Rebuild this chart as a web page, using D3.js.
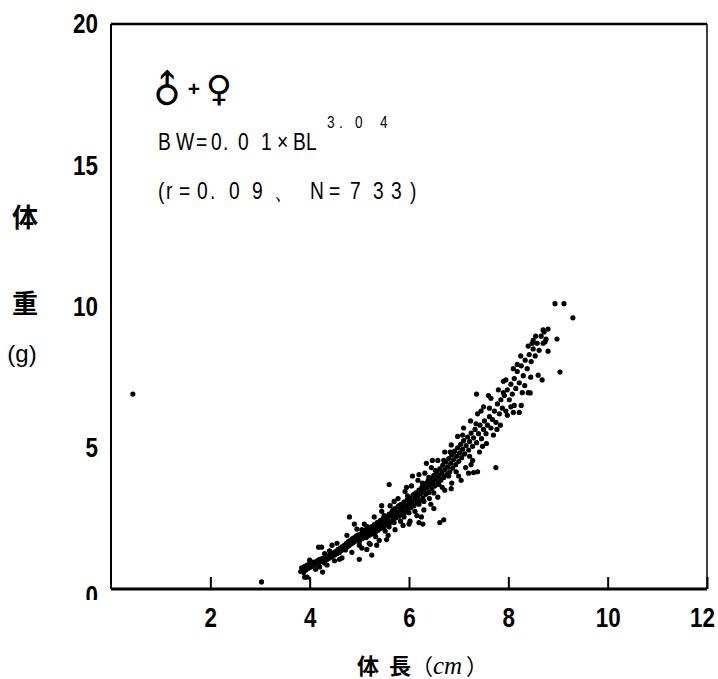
<!DOCTYPE html>
<html><head><meta charset="utf-8">
<script src="https://cdn.jsdelivr.net/npm/d3@7"></script>
<style>body{margin:0;background:#fff}svg{display:block}</style>
</head><body><svg id="c" width="718" height="679"></svg>
<script>
// ---- data ----
const xTickValues = [2, 4, 6, 8, 10, 12];
const yTickValues = [0, 5, 10, 15, 20];
const xTitleParts = ["体", "長", "（", "cm", "）"];
const yTitleParts = ["体", "重", "(g)"];
const sexLabel = ["♂", "+", "♀"];
const formulaMain = "B W=0. 0 1 ×BL";
const formulaExp = "3. 0 4";
const statsLine = "(r=0. 0 9、N=7 3 3)";
// [body length (cm), body weight (g)]
const scatterPoints = [
[3.82,0.62],[3.84,0.75],[3.86,0.70],[3.88,0.58],[3.90,0.80],[3.93,0.68],[3.95,0.85],[3.98,0.74],[4.00,0.90],[4.02,0.78],
[4.05,0.84],[4.08,0.95],[4.10,0.86],[4.12,0.92],[4.15,1.00],[4.18,0.90],[4.20,1.05],[4.22,0.97],[4.25,1.08],[4.28,1.02],
[4.30,0.92],[4.32,1.12],[4.35,1.05],[4.38,1.18],[4.40,1.10],[4.42,1.22],[4.45,1.15],[4.48,1.28],[4.50,1.20],
[4.26,0.60],[4.18,1.48],[4.24,1.48],[3.90,0.42],[3.95,0.42],
[4.52,1.32],[4.55,1.25],[4.57,1.40],[4.60,1.30],[4.62,1.45],[4.64,1.36],[4.66,1.50],[4.68,1.42],[4.70,1.55],[4.72,1.38],
[4.74,1.62],[4.76,1.50],[4.78,1.68],[4.80,1.55],[4.82,1.72],[4.84,1.60],[4.86,1.78],[4.88,1.65],[4.90,1.82],[4.92,1.70],
[4.94,1.88],[4.96,1.75],[4.98,1.92],[5.00,1.68],[5.02,1.85],[5.04,1.95],[5.06,1.78],[5.08,2.02],[5.10,1.88],[5.12,2.08],
[5.14,1.82],[5.16,1.98],[5.18,2.15],[5.20,1.90],[5.22,2.05],[5.24,2.20],[5.26,1.95],[5.28,2.12],[5.30,2.28],[5.32,2.00],
[5.34,2.18],[5.36,2.35],[5.38,2.08],[5.40,2.25],[5.42,2.42],[5.44,2.15],[5.46,2.32],[5.48,2.50],[5.50,2.20],
[5.52,2.38],[5.54,2.55],[5.56,2.30],[5.58,2.48],[5.60,2.65],[5.62,2.35],[5.64,2.58],[5.66,2.75],[5.68,2.45],[5.70,2.62],
[5.72,2.85],[5.74,2.52],[5.76,2.70],[5.78,2.92],[5.80,2.58],[5.82,2.78],[5.84,3.00],[5.86,2.65],[5.88,2.88],[5.90,3.08],
[5.92,2.72],[5.94,2.95],[5.96,3.15],[5.98,2.80],[6.00,3.02],[6.02,3.22],[6.04,2.88],[6.06,3.10],[6.08,3.32],[6.10,2.95],
[6.12,3.18],[6.14,3.40],[6.16,3.05],[6.18,3.28],[6.20,3.50],[6.22,3.12],[6.24,3.38],[6.26,3.60],[6.28,3.22],[6.30,3.48],
[6.32,3.72],[6.34,3.35],[6.36,3.58],[6.38,3.82],[6.40,3.42],[6.42,3.68],[6.44,3.92],[6.46,3.55],[6.48,3.80],[6.50,4.02],
[5.05,2.10],[5.15,2.00],[5.25,2.10],[5.35,2.25],[5.45,2.40],[5.55,2.45],[5.65,2.60],[5.75,2.62],[5.85,2.82],[5.95,2.90],
[6.05,3.00],[6.15,3.25],[6.25,3.45],[6.35,3.62],[6.45,3.72],[6.55,3.95],[5.50,2.60],[5.60,2.20],[5.70,2.35],[5.80,2.95],
[5.90,2.55],[6.00,2.70],[6.10,3.35],[6.20,3.00],[6.30,3.10],[6.40,3.95],[6.50,3.40],[6.60,3.70],[6.70,4.55],[6.80,4.00],[6.90,4.85],
[6.52,3.65],[6.54,3.90],[6.56,4.15],[6.58,3.75],[6.60,4.00],[6.62,4.25],[6.64,3.85],[6.66,4.10],[6.68,4.38],[6.70,3.95],
[6.72,4.22],[6.74,4.50],[6.76,4.05],[6.78,4.32],[6.80,4.62],[6.82,4.15],[6.84,4.45],[6.86,4.75],[6.88,4.28],[6.90,4.58],
[6.92,4.88],[6.94,4.40],[6.96,4.70],[6.98,5.00],[7.00,4.52],[7.02,4.82],[7.04,5.12],[7.06,4.65],[7.08,4.95],[7.10,5.25],
[7.12,4.78],[7.15,5.08],[7.18,5.38],[7.20,4.92],[7.22,5.22],[7.25,5.52],[7.28,5.05],[7.30,5.35],[7.33,5.65],[7.36,5.18],
[7.40,5.50],[7.43,5.80],[7.46,5.32],[7.50,5.65],
[7.52,5.95],[7.55,5.50],[7.58,5.80],[7.62,6.10],[7.65,5.70],[7.68,6.00],[7.72,6.30],[7.75,5.90],[7.78,6.55],[7.82,6.20],
[7.85,6.70],[7.88,6.40],[7.92,6.85],[7.95,6.30],[7.98,7.05],[8.02,6.70],[8.05,7.25],[8.08,6.90],[8.12,7.45],[8.15,7.10],
[8.18,7.70],[8.22,7.30],[8.26,7.90],[8.30,7.55],[8.34,8.10],[8.38,7.80],[8.42,8.30],[8.46,8.05],[8.50,8.50],[8.54,8.25],
[8.58,8.70],[8.62,8.45],[8.66,8.95],[8.70,8.70],[8.72,9.10],[8.76,8.85],[8.80,9.20],
[8.70,9.17],[8.74,8.75],[8.50,8.80],[8.98,8.85],[8.80,8.42],[9.04,7.68],[8.60,7.57],
[4.55,1.62],[4.75,1.90],[4.95,2.12],[5.10,2.30],[5.30,2.55],[5.45,2.75],[5.62,2.95],[5.78,3.20],[5.92,3.45],[6.05,3.65],
[6.18,3.85],[6.32,4.10],[6.45,4.30],[6.58,4.55],[6.72,4.85],[6.85,5.10],[6.98,5.40],[7.10,5.70],[7.24,5.95],[7.38,6.20],
[7.50,6.45],[7.65,6.75],[7.80,7.05],[7.95,7.40],[8.10,7.80],[8.25,8.25],[8.40,8.60],[8.55,8.95],
[4.65,1.10],[4.85,1.30],[5.05,1.45],[5.22,1.58],[5.40,1.72],[5.58,1.90],[5.72,2.10],[5.88,2.25],[6.02,2.40],[6.16,2.60],
[6.30,2.80],[6.44,3.00],[6.58,3.25],[6.72,3.50],[6.86,3.75],[7.00,4.00],[7.14,4.30],[7.28,4.55],[7.42,4.85],[7.56,5.15],
[7.70,5.45],[7.84,5.80],[7.98,6.15],[8.12,6.50],[8.28,6.95],[8.45,7.50],
[5.15,2.22],[5.33,1.85],[5.52,2.05],[5.68,2.80],[5.83,2.40],[5.97,3.30],[6.12,2.75],[6.27,3.75],[6.41,3.20],[6.53,4.20],
[6.67,3.60],[6.83,4.85],[6.95,4.15],[7.08,5.45],[7.22,4.70],[7.35,5.85],[7.48,5.05],[7.62,6.40],[7.77,5.65],[7.90,6.95],
[8.05,6.45],[8.18,7.95],[8.33,7.20],[8.48,8.70],[4.40,1.35],[4.30,1.25],[4.50,1.00],[4.20,0.78],[4.00,1.02],[4.12,0.70],
[5.45,2.95],[5.70,3.10],[5.95,3.60],[6.20,4.05],[6.35,4.45],[6.00,2.30],[6.25,2.55],[6.50,2.85],[6.85,3.55],[7.05,3.85],
[7.45,6.30],[7.60,6.85],[7.90,7.35],[8.10,6.25],[7.25,4.40],[4.90,2.30],[5.15,1.40],[5.35,1.55],[5.55,1.75],[4.45,1.55],
[4.35,0.85],[4.60,1.05],
[4.80,2.55],[5.00,1.05],[5.25,1.20],[5.60,3.70],[6.07,4.00],[6.47,4.55],[6.62,2.35],[6.70,2.45],[6.20,2.35],[6.28,2.30],
[7.20,4.10],[7.30,4.12],[7.38,4.15],[7.75,4.30],[7.36,6.90],[8.40,6.95],[8.22,6.25],[8.68,7.40],[8.44,6.94],[8.26,6.50],
[8.94,10.10],[9.12,10.10],[9.30,9.60],[0.44,6.90],[3.03,0.25],[5.00,1.55],[5.20,1.62]
];

// ---- drawing ----
const svg = d3.select("#c");
const x = d3.scaleLinear().domain([0, 12]).range([111, 707]);
const y = d3.scaleLinear().domain([0, 20]).range([589, 24]);
const numFont = "'Liberation Sans',Arial,sans-serif";
const cjkFont = "'Noto Sans CJK JP','Noto Sans CJK SC',sans-serif";
const SX = 0.8; // horizontal condensing of the scan's narrow typeface

svg.append("rect").attr("width", 718).attr("height", 679).attr("fill", "#fff");

// points
svg.append("g").selectAll("circle").data(scatterPoints).join("circle")
  .attr("cx", d => x(d[0])).attr("cy", d => y(d[1])).attr("r", 2.6).attr("fill", "#000");

// frame
const [x0, x1] = x.range(), [yb, yt] = y.range();
const frame = svg.append("g").attr("stroke", "#000").attr("fill", "none");
frame.append("line").attr("x1", x0).attr("x2", x1).attr("y1", yt).attr("y2", yt).attr("stroke-width", 2.5);
frame.append("line").attr("x1", x0).attr("x2", x1).attr("y1", yb).attr("y2", yb).attr("stroke-width", 3);
frame.append("line").attr("x1", x0).attr("x2", x0).attr("y1", yt).attr("y2", yb).attr("stroke-width", 2);
frame.append("line").attr("x1", x1).attr("x2", x1).attr("y1", yt).attr("y2", yb).attr("stroke-width", 1.5);

// x axis
const gx = svg.append("g").attr("transform", `translate(0,${yb})`)
  .call(d3.axisBottom(x).tickValues(xTickValues).tickSize(-12).tickPadding(18));
gx.select(".domain").remove();
gx.selectAll("line").attr("stroke", "#000").attr("stroke-width", 2);
gx.selectAll("text").attr("font-family", numFont).attr("font-weight", 700).attr("font-size", 28).attr("fill", "#000")
  .attr("transform", `scale(${SX},1)`);
gx.selectAll(".tick").filter(d => d === 12).select("text").attr("x", -5 / SX);

// y axis (clip so the 0 label is cut like the scan)
svg.append("defs").append("clipPath").attr("id", "yclip")
  .append("rect").attr("x", 0).attr("y", 0).attr("width", x0).attr("height", 600);
const gyWrap = svg.append("g").attr("clip-path", "url(#yclip)");
const gy = gyWrap.append("g").attr("transform", `translate(${x0},0)`)
  .call(d3.axisLeft(y).tickValues(yTickValues).tickSize(-12).tickPadding(13));
gy.select(".domain").remove();
gy.selectAll("line").attr("stroke", "#000").attr("stroke-width", 2);
gy.selectAll("text").attr("font-family", numFont).attr("font-weight", 700).attr("font-size", 28).attr("fill", "#000")
  .attr("x", -13 / SX).attr("transform", `scale(${SX},1)`);
gy.selectAll(".tick").filter(d => d === 0).select("text").attr("dy", "0.55em");

// y title
const yPos = [[25, 227], [25, 313], [22, 362]];
svg.append("g").selectAll("text").data(yTitleParts).join("text")
  .attr("x", (d, i) => yPos[i][0]).attr("y", (d, i) => yPos[i][1])
  .attr("text-anchor", "middle")
  .attr("font-family", (d, i) => i < 2 ? cjkFont : numFont)
  .attr("font-weight", (d, i) => i < 2 ? 700 : 400)
  .attr("font-size", (d, i) => i < 2 ? 26 : 24)
  .text(d => d);

// x title
const xtX = [357, 389, 411, 433, 466];
const xt = svg.append("text").attr("y", 674).attr("font-size", 22)
  .attr("font-family", cjkFont).attr("font-weight", 700);
xTitleParts.forEach((p, i) => {
  const t = xt.append("tspan").attr("x", xtX[i]).text(p);
  if (i === 3) t.attr("font-family", "'Liberation Serif',serif").attr("font-style", "italic").attr("font-weight", 400).attr("font-size", 25);
  if (i === 2 || i === 4) t.attr("font-weight", 400);
});

// sex symbols
svg.append("text").attr("transform", "translate(167,90) rotate(-45)")
  .attr("text-anchor", "middle").attr("dominant-baseline", "central")
  .attr("font-family", "'DejaVu Sans',sans-serif").attr("font-size", 38).text(sexLabel[0]);
svg.append("text").attr("x", 194).attr("y", 96).attr("text-anchor", "middle")
  .attr("font-family", numFont).attr("font-weight", 700).attr("font-size", 21).text(sexLabel[1]);
svg.append("text").attr("x", 219).attr("y", 88).attr("text-anchor", "middle").attr("dominant-baseline", "central")
  .attr("font-family", "'DejaVu Sans',sans-serif").attr("font-size", 36).text(sexLabel[2]);

// formula: glyphs condensed by a scale, each glyph (with its trailing spaces) set at the scan's position
function tokens(str) { return str.match(/\S\s*/g); }
function placedText(str, xs, py, fs) {
  const t = svg.append("text").attr("transform", `scale(${SX},1)`).attr("y", py)
    .attr("font-family", numFont).attr("font-size", fs).attr("fill", "#000")
    .attr("xml:space", "preserve");
  tokens(str).forEach((tok, i) => t.append("tspan").attr("x", xs[i] / SX).text(tok));
  return t;
}
placedText(formulaMain, [158, 176, 196, 211, 223, 238, 261, 277, 293, 306], 150, 24);
placedText(formulaExp, [327, 339, 355, 380], 128, 17);
placedText(statsLine, [158, 166, 179, 197, 210, 229, 252, 274, 310, 329, 350, 373, 391, 410], 199, 24);
</script></body></html>
